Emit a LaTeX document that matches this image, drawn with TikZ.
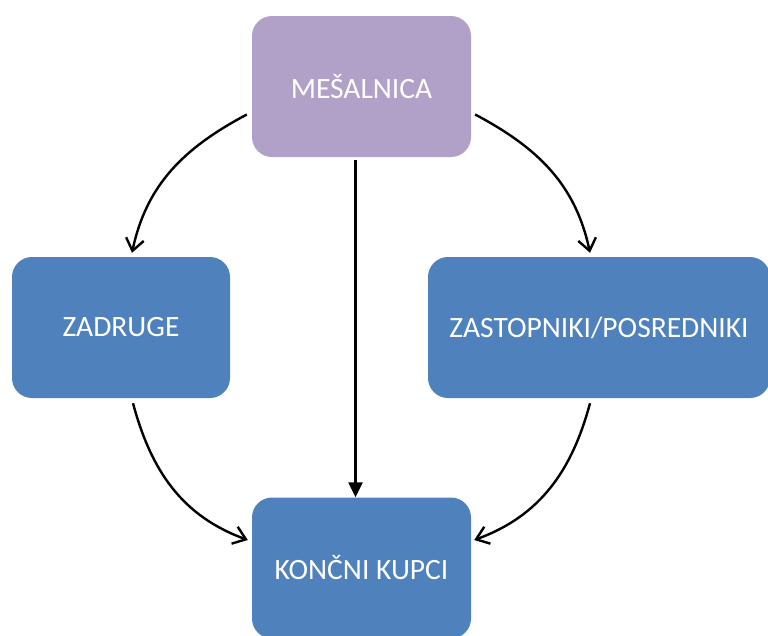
\documentclass[tikz,border=0pt]{standalone}
\usepackage{fontspec}
\setmainfont{Carlito}
\usetikzlibrary{arrows.meta}
\definecolor{lav}{HTML}{B1A0C7}
\definecolor{blu}{HTML}{4F81BD}
\tikzset{
  box/.style={rounded corners=20pt, minimum height=141pt, inner sep=0pt, text=white, font=\fontsize{29.5}{33}\selectfont},
  conn/.style={line width=2.4pt, -{Straight Barb[length=12pt,width=18pt,line width=2.4pt]}},
  straightconn/.style={line width=2.4pt, -{Triangle[length=15pt,width=14pt]}}
}
\begin{document}
\begin{tikzpicture}[x=1pt,y=1pt]
\useasboundingbox[fill=white] (0,0) rectangle (768,-635);
\node[box, fill=lav, minimum width=219pt] (mes) at (361.5,-86.5) {MEŠALNICA};
\node[box, fill=blu, minimum width=218pt] (zad) at (121,-327.5) {ZADRUGE};
\node[box, fill=blu, minimum width=342pt] (zas) at (599,-327.5) {ZASTOPNIKI/POSREDNIKI};
\node[box, fill=blu, minimum width=219pt] (kon) at (361.5,-568) {KONČNI KUPCI};
\draw[conn] ([xshift=-5pt,yshift=-28pt]mes.west) to[out=208,in=78] ([xshift=11pt,yshift=4pt]zad.north);
\draw[conn] ([xshift=4pt,yshift=-28pt]mes.east) to[out=-28,in=102] ([xshift=-9pt,yshift=4pt]zas.north);
\draw[straightconn] ([xshift=-6pt,yshift=-3pt]mes.south) -- ([xshift=-6pt]kon.north);
\draw[conn] ([xshift=12pt,yshift=-5pt]zad.south) to[out=-75,in=160] ([xshift=-4pt,yshift=28pt]kon.west);
\draw[conn] ([xshift=-9pt,yshift=-5pt]zas.south) to[out=-105,in=20] ([xshift=3pt,yshift=28pt]kon.east);
\end{tikzpicture}
\end{document}
